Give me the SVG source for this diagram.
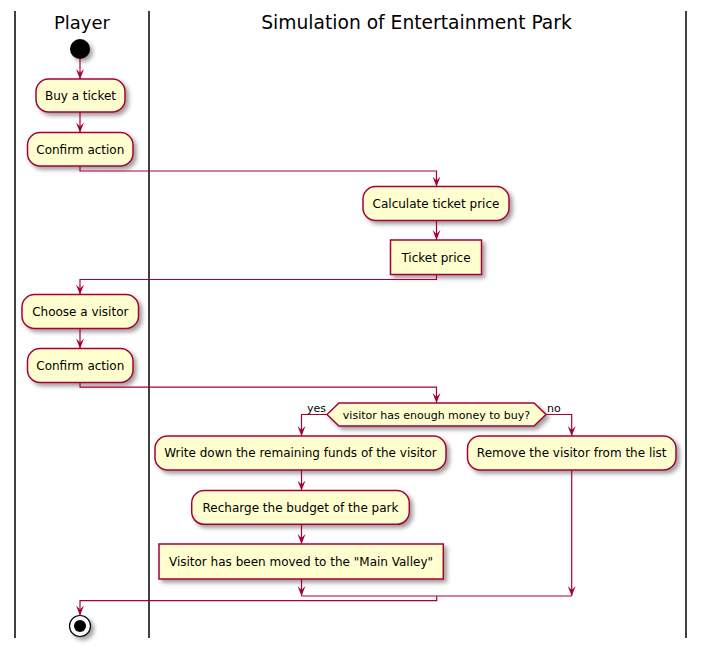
<svg xmlns="http://www.w3.org/2000/svg" width="705" height="654" viewBox="0 0 705 654">
<defs>
<filter id="sh" x="-20%" y="-30%" width="150%" height="180%">
<feDropShadow dx="3" dy="3" stdDeviation="2" flood-color="#000" flood-opacity="0.38"/>
</filter>
<marker id="ah" viewBox="0 0 10 10" refX="10" refY="5" markerWidth="10" markerHeight="10" markerUnits="userSpaceOnUse" orient="auto">
<path d="M0,1 L10,5 L0,9 L4,5 Z" fill="#A80036"/>
</marker>
<style>
.lane{stroke:#000;stroke-width:1.5;fill:none}
.title{font-family:"DejaVu Sans",sans-serif;font-size:18px;fill:#000;text-anchor:middle}
.act{fill:#FEFECE;stroke:#A80036;stroke-width:1.5;filter:url(#sh)}
.t{font-family:"DejaVu Sans",sans-serif;font-size:12px;fill:#000;text-anchor:middle}
.ts{font-family:"DejaVu Sans",sans-serif;font-size:11px;fill:#000}
.c{fill:none;stroke:#A80036;stroke-width:1.2}
.ca{fill:none;stroke:#A80036;stroke-width:1.2;marker-end:url(#ah)}
</style>
</defs>
<g id="lanes">
<line class="lane" x1="15" y1="11" x2="15" y2="638"/>
<line class="lane" x1="149" y1="11" x2="149" y2="638"/>
<line class="lane" x1="686" y1="11" x2="686" y2="638"/>
<text class="title" x="82" y="28.5">Player</text>
<text class="title" x="416.5" y="28.5" style="font-size:18.7px">Simulation of Entertainment Park</text>
</g>
<g id="start"><circle cx="80" cy="49" r="10" fill="#000" filter="url(#sh)"/></g>
<g id="buy"><rect class="act" x="36" y="79" width="89" height="33" rx="12.5"/><text class="t" x="80.5" y="99.5">Buy a ticket</text></g>
<g id="confirm1"><rect class="act" x="27.5" y="132.5" width="105.5" height="33.5" rx="12.5"/><text class="t" x="80.3" y="153.5">Confirm action</text></g>
<g id="calc"><rect class="act" x="363" y="186.5" width="146" height="34" rx="12.5"/><text class="t" x="436" y="207.5">Calculate ticket price</text></g>
<g id="ticketprice"><rect class="act" x="390.5" y="240" width="91" height="34.5"/><text class="t" x="436" y="261.5">Ticket price</text></g>
<g id="choose"><rect class="act" x="22" y="294.5" width="116.5" height="34" rx="12.5"/><text class="t" x="80.3" y="315.5">Choose a visitor</text></g>
<g id="confirm2"><rect class="act" x="27.5" y="348.5" width="105.5" height="34" rx="12.5"/><text class="t" x="80.3" y="369.5">Confirm action</text></g>
<g id="decision"><polygon class="act" points="327,414.5 339,403 534,403 546,414.5 534,426 339,426"/><text class="ts" x="436.5" y="418.5" text-anchor="middle">visitor has enough money to buy?</text></g>
<g id="writedown"><rect class="act" x="155" y="436" width="291" height="34" rx="12.5"/><text class="t" x="300.5" y="457">Write down the remaining funds of the visitor</text></g>
<g id="remove"><rect class="act" x="467.5" y="436" width="208.5" height="34" rx="12.5"/><text class="t" x="571.7" y="457">Remove the visitor from the list</text></g>
<g id="recharge"><rect class="act" x="191.7" y="490.5" width="217.6" height="33.8" rx="12.5"/><text class="t" x="300.5" y="511.5">Recharge the budget of the park</text></g>
<g id="moved"><rect class="act" x="159" y="544" width="284.3" height="35"/><text class="t" x="301" y="565.5">Visitor has been moved to the "Main Valley"</text></g>
<g id="end"><circle cx="80" cy="626" r="10.5" fill="#fff" stroke="#000" stroke-width="1.2" filter="url(#sh)"/><circle cx="80" cy="626" r="6" fill="#000"/></g>
<g id="connectors">
<path class="ca" d="M80,59 V79"/>
<path class="ca" d="M80,112 V132.5"/>
<path class="ca" d="M80,166 V171 H436.5 V186.5"/>
<path class="ca" d="M436.5,220.5 V240"/>
<path class="ca" d="M436.5,274.5 V279.5 H80 V294.5"/>
<path class="ca" d="M80,328.5 V348.5"/>
<path class="ca" d="M80,382.5 V387.2 H436.5 V403"/>
<path class="ca" d="M327,414.5 H301.5 V436"/>
<path class="ca" d="M546,414.5 H571.7 V436"/>
<text class="ts" x="326" y="411.5" text-anchor="end">yes</text>
<text class="ts" x="547" y="411.5">no</text>
<path class="ca" d="M301.5,470 V490.5"/>
<path class="ca" d="M301.5,524.3 V544"/>
<path class="ca" d="M301.5,579 V596"/>
<path class="ca" d="M571.7,470 V596"/>
<path class="c" d="M301.5,596 H571.7"/>
<path class="ca" d="M436.7,596 V600.7 H80 V615.5"/>
</g>
</svg>
